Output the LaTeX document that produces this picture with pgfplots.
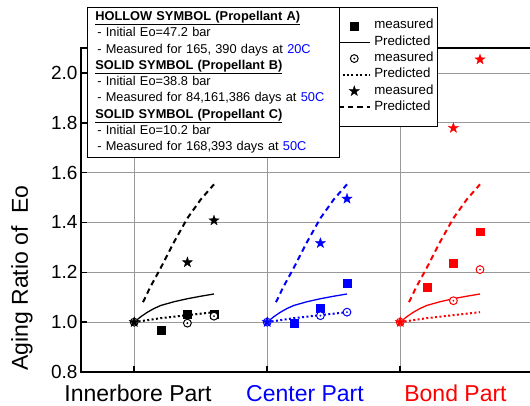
\documentclass[border=0pt]{standalone}
\usepackage{pgfplots}
\pgfplotsset{compat=1.18}
\usepackage{fontspec}
\setmainfont{Liberation Sans}

\definecolor{pblue}{RGB}{0,0,255}
\definecolor{pred}{RGB}{255,0,0}

% open circle with a centre dot
\pgfdeclareplotmark{odot}{%
  \pgfpathcircle{\pgfpointorigin}{\pgfplotmarksize}%
  \pgfusepathqfillstroke
  \pgfpathcircle{\pgfpointorigin}{0.35pt}%
  \pgfusepathqstroke
}
% filled five-pointed star
\pgfdeclareplotmark{fstar}{%
  \pgfpathmoveto{\pgfpointpolar{90}{\pgfplotmarksize}}%
  \pgfpathlineto{\pgfpointpolar{126}{0.4\pgfplotmarksize}}%
  \pgfpathlineto{\pgfpointpolar{162}{\pgfplotmarksize}}%
  \pgfpathlineto{\pgfpointpolar{198}{0.4\pgfplotmarksize}}%
  \pgfpathlineto{\pgfpointpolar{234}{\pgfplotmarksize}}%
  \pgfpathlineto{\pgfpointpolar{270}{0.4\pgfplotmarksize}}%
  \pgfpathlineto{\pgfpointpolar{306}{\pgfplotmarksize}}%
  \pgfpathlineto{\pgfpointpolar{342}{0.4\pgfplotmarksize}}%
  \pgfpathlineto{\pgfpointpolar{18}{\pgfplotmarksize}}%
  \pgfpathlineto{\pgfpointpolar{54}{0.4\pgfplotmarksize}}%
  \pgfpathclose
  \pgfusepathqfillstroke
}

\pgfplotsset{
  solidcurve/.style={#1, line width=1.3pt, mark=none},
  dotcurve/.style={#1, line width=2pt, dash pattern=on 2pt off 2.4pt, mark=none},
  dashcurve/.style={#1, line width=2.0pt, dash pattern=on 5.5pt off 4pt, mark=none},
  sqmark/.style={only marks, mark=square*, mark size=3.85pt, mark options={draw=#1, fill=#1, line width=0.3pt}},
  cirmark/.style={only marks, mark=odot, mark size=3.9pt, mark options={draw=#1, fill=white, line width=1pt}},
  starmark/.style={only marks, mark=fstar, mark size=5.4pt, mark options={draw=#1, fill=#1, line width=0.3pt}},
}

\begin{document}
\begin{tikzpicture}
\clip (0,0) rectangle (530pt,406pt);
\path[use as bounding box] (0,0) rectangle (530pt,406pt);
\begin{axis}[
  at={(81pt,34pt)}, anchor=south west,
  scale only axis, width=505.4pt, height=324pt,
  xmin=-2, xmax=17, ymin=0.8, ymax=2.1,
  axis line style={line width=2.4pt},
  xtick={0,5,10,15}, xticklabels={},
  ytick={0.8,1.0,1.2,1.4,1.6,1.8,2.0},
  yticklabel style={/pgf/number format/.cd, fixed, fixed zerofill, precision=1},
  /pgf/number format/assume math mode=true,
  ticklabel style={font=\fontsize{19}{19}\selectfont},
  tick pos=left, tick align=inside,
  major tick length=6pt,
  tick style={black, line width=1.6pt},
  grid=major, major grid style={black!40, line width=0.8pt},
  legend style={
    at={(0.4986,1.1265)}, anchor=north west,
    draw=black, line width=0.6pt, fill=white,
    font=\fontsize{13.3}{15}\selectfont,
    inner xsep=4pt, inner ysep=10.5pt,
    column sep=3pt,
    nodes={inner sep=0pt, text height=11pt, text depth=5.3pt},
  },
  legend cell align=left,
]

% legend samples (black)
\addlegendimage{legend image code/.code={\path[draw=black, fill=black, line width=0.3pt, mark size=3.85pt] plot[only marks, mark=square*] coordinates {(16pt,0pt)};}}
\addlegendentry{measured}
\addlegendimage{legend image code/.code={\draw[black, line width=1.3pt] (0pt,0pt) -- (32pt,0pt);}}
\addlegendentry{Predicted}
\addlegendimage{legend image code/.code={\path[draw=black, fill=white, line width=1pt, mark size=3.9pt] plot[only marks, mark=odot] coordinates {(16pt,0pt)};}}
\addlegendentry{measured}
\addlegendimage{legend image code/.code={\draw[black, line width=2pt, dash pattern=on 2pt off 2.4pt] (0pt,0pt) -- (32pt,0pt);}}
\addlegendentry{Predicted}
\addlegendimage{legend image code/.code={\path[draw=black, fill=black, line width=0.3pt, mark size=5.4pt] plot[only marks, mark=fstar] coordinates {(16pt,0pt)};}}
\addlegendentry{measured}
\addlegendimage{legend image code/.code={\draw[black, line width=2pt, dash pattern=on 5.5pt off 4pt] (0pt,0pt) -- (32pt,0pt);}}
\addlegendentry{Predicted}

% ---------- Innerbore part (x = 0..3) ----------
\addplot[solidcurve=black, forget plot] coordinates {(0,1.000) (0.25,1.022) (0.5,1.040) (0.75,1.055) (1,1.067) (1.5,1.082) (2,1.094) (2.5,1.104) (3,1.113)};
\addplot[dotcurve=black, forget plot] coordinates {(0,1.000) (0.5,1.008) (1,1.016) (1.5,1.022) (2,1.028) (2.5,1.034) (3,1.040)};
\addplot[dashcurve=black, forget plot] coordinates {(0.33,1.080) (0.6,1.140) (1,1.218) (1.5,1.322) (2,1.417) (2.5,1.492) (3,1.553)};
\addplot[sqmark=black, forget plot] coordinates {(1,0.969) (2,1.033) (3,1.031)};
\addplot[cirmark=black, forget plot] coordinates {(0,1.000) (2,0.996) (3,1.024)};
\addplot[starmark=black, forget plot] coordinates {(0,1.000) (2,1.240) (3,1.408)};

% ---------- Center part (x = 5..8) ----------
\addplot[solidcurve=pblue, forget plot] coordinates {(5,1.000) (5.25,1.022) (5.5,1.040) (5.75,1.055) (6,1.067) (6.5,1.082) (7,1.094) (7.5,1.104) (8,1.113)};
\addplot[dotcurve=pblue, forget plot] coordinates {(5,1.000) (5.5,1.008) (6,1.016) (6.5,1.022) (7,1.028) (7.5,1.034) (8,1.040)};
\addplot[dashcurve=pblue, forget plot] coordinates {(5.33,1.080) (5.6,1.140) (6,1.218) (6.5,1.322) (7,1.417) (7.5,1.492) (8,1.553)};
\addplot[sqmark=pblue, forget plot] coordinates {(6,0.996) (7,1.057) (8,1.156)};
\addplot[cirmark=pblue, forget plot] coordinates {(5,1.000) (7,1.026) (8,1.040)};
\addplot[starmark=pblue, forget plot] coordinates {(5,1.000) (7,1.317) (8,1.495)};

% ---------- Bond part (x = 10..13) ----------
\addplot[solidcurve=pred, forget plot] coordinates {(10,1.000) (10.25,1.022) (10.5,1.040) (10.75,1.055) (11,1.067) (11.5,1.082) (12,1.094) (12.5,1.104) (13,1.113)};
\addplot[dotcurve=pred, forget plot] coordinates {(10,1.000) (10.5,1.008) (11,1.016) (11.5,1.022) (12,1.028) (12.5,1.034) (13,1.040)};
\addplot[dashcurve=pred, forget plot] coordinates {(10.33,1.080) (10.6,1.140) (11,1.218) (11.5,1.322) (12,1.417) (12.5,1.492) (13,1.553)};
\addplot[sqmark=pred, forget plot] coordinates {(11,1.140) (12,1.238) (13,1.363)};
\addplot[cirmark=pred, forget plot] coordinates {(10,1.000) (12,1.086) (13,1.211)};
\addplot[starmark=pred, forget plot] coordinates {(10,1.000) (12,1.779) (13,2.054)};
\end{axis}

% part names under the axis
\node[anchor=base, font=\fontsize{23}{23}\selectfont] at (138pt,4pt) {Innerbore Part};
\node[anchor=base, font=\fontsize{23}{23}\selectfont, text=pblue] at (305pt,4pt) {Center Part};
\node[anchor=base, font=\fontsize{23}{23}\selectfont, text=pred] at (455.5pt,4pt) {Bond Part};
% y-axis title
\node[rotate=90, font=\fontsize{23}{23}\selectfont] at (22pt,128pt) {Aging Ratio of\ \ Eo};

% propellant description box
\node[draw=black, line width=0.6pt, fill=white, anchor=north west,
      inner xsep=8pt, inner ysep=4pt, align=left, text width=236pt,
      font=\fontsize{12.8}{16.25}\selectfont] at (87pt,399pt) {%
\underline{\textbf{HOLLOW SYMBOL (Propellant A)}}\\
\hspace*{2pt}- Initial Eo=47.2 bar\\
\hspace*{2pt}- Measured for 165, 390 days at \textcolor{pblue}{20C}\\
\underline{\textbf{SOLID SYMBOL (Propellant B)}}\\
\hspace*{2pt}- Initial Eo=38.8 bar\\
\hspace*{2pt}- Measured for 84,161,386 days at \textcolor{pblue}{50C}\\
\underline{\textbf{SOLID SYMBOL (Propellant C)}}\\
\hspace*{2pt}- Initial Eo=10.2 bar\\
\hspace*{2pt}- Measured for 168,393 days at \textcolor{pblue}{50C}};
\end{tikzpicture}
\end{document}
